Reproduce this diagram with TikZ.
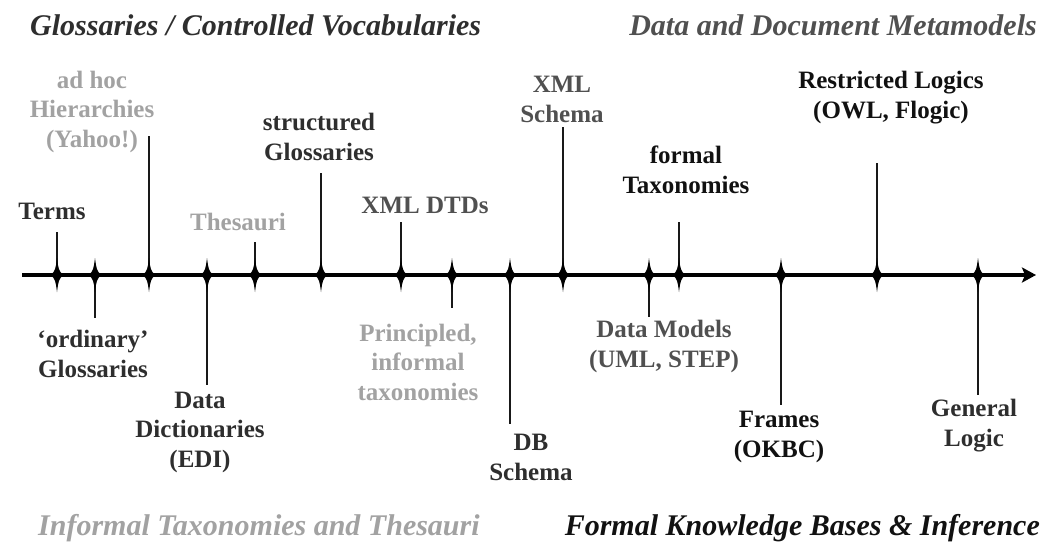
\documentclass[tikz,border=0pt]{standalone}
\usepackage{fontspec}
\setmainfont{Liberation Serif}
\usetikzlibrary{arrows.meta}
\definecolor{inkblack}{HTML}{111111}
\definecolor{inkdark}{HTML}{2E2E2E}
\definecolor{inkmid}{HTML}{505050}
\definecolor{inklight}{HTML}{A2A2A2}
\begin{document}
\begin{tikzpicture}[x=1pt,y=-1pt,
  % multi-line labels are placed by the baseline of their last line
  lbl/.style={font=\bfseries\fontsize{25}{29.5}\selectfont, align=center, anchor=base, inner sep=0pt},
  ttl/.style={font=\bfseries\itshape\fontsize{30}{34}\selectfont, inner sep=0pt},
  stem/.style={line width=2.2pt, black!90},
  axisline/.style={line width=4.5pt, -{Stealth[length=14pt,width=15pt,inset=3pt]}},
  spindle/.pic={\fill[black] (0,-17) .. controls (1.6,-5) .. (6,0) .. controls (1.6,5) .. (0,17)
                .. controls (-1.6,5) .. (-6,0) .. controls (-1.6,-5) .. cycle;}
]
\useasboundingbox (0,0) rectangle (1054,552);

% corner titles
\node[ttl, anchor=base west, text=inkdark]  (tl) at (30,35)   {Glossaries / Controlled Vocabularies};
\node[ttl, anchor=base east, text=inkmid]   (tr) at (1037,35) {Data and Document Metamodels};
\node[ttl, anchor=base west, text=inklight] (bl) at (38,535)  {Informal Taxonomies and Thesauri};
\node[ttl, anchor=base east, text=inkblack] (br) at (1040,535){Formal Knowledge Bases \& Inference};

% the axis
\coordinate (a0) at (22,275);
\coordinate (a1) at (1036,275);
\draw[axisline] (a0) -- (a1);

% tick points on the axis and free ends of the stems
\foreach \n/\x/\y in {1/57/232, 2/95/318, 3/149/136, 4/207/385, 5/255/242,
                      6/321/173, 7/401/222, 8/452/308, 9/510/424, 10/563/127,
                      11/649/317, 12/679/222, 13/781/405, 14/877/163, 15/978/395}{
  \coordinate (t\n) at (\x,275);
  \coordinate (e\n) at (\x,\y);
  \draw[stem] (t\n) -- (e\n);
  \pic at (t\n) {spindle};
}

% labels above the axis
\node[lbl, text=inkdark]  (terms) at (52,219)  {Terms};
\node[lbl, text=inklight] (adhoc) at (92,147)  {ad hoc\\Hierarchies\\(Yahoo!)};
\node[lbl, text=inklight] (thes)  at (238,230) {Thesauri};
\node[lbl, text=inkdark]  (sglo)  at (319,160) {structured\\Glossaries};
\node[lbl, text=inkmid]   (dtd)   at (425,213) {XML DTDs};
\node[lbl, text=inkmid]   (xsd)   at (562,122) {XML\\Schema};
\node[lbl, text=inkblack] (ftax)  at (686,193) {formal\\Taxonomies};
\node[lbl, text=inkblack] (rlog)  at (891,118) {Restricted Logics\\(OWL, Flogic)};

% labels below the axis
\node[lbl, text=inkdark]  (oglo)  at (93,377)  {‘ordinary’\\Glossaries};
\node[lbl, text=inkdark]  (ddic)  at (200,467) {Data\\Dictionaries\\(EDI)};
\node[lbl, text=inklight] (ptax)  at (418,400) {Principled,\\informal\\taxonomies};
\node[lbl, text=inkdark]  (dbs)   at (531,480) {DB\\Schema};
\node[lbl, text=inkmid]   (dmod)  at (664,367) {Data Models\\(UML, STEP)};
\node[lbl, text=inkblack] (frm)   at (779,457) {Frames\\(OKBC)};
\node[lbl, text=inkdark]  (glog)  at (974,446) {General\\Logic};
\end{tikzpicture}
\end{document}
